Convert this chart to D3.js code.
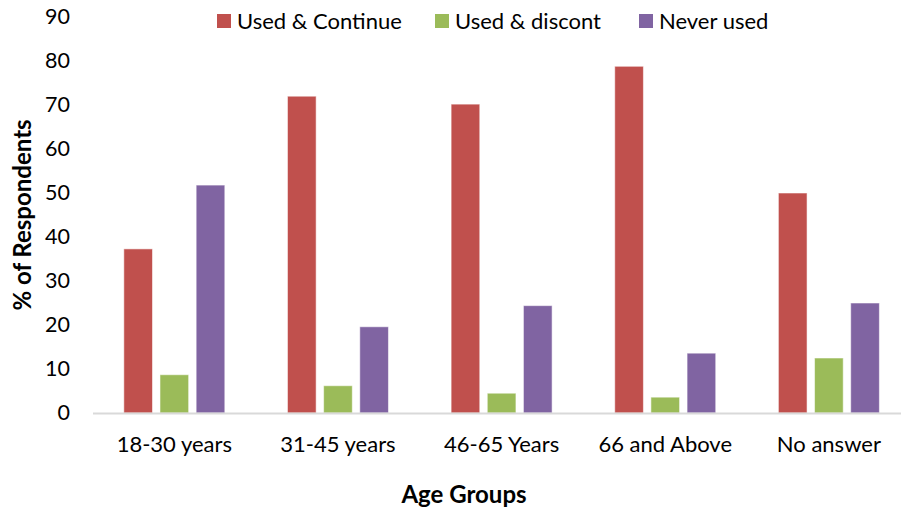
<!DOCTYPE html>
<html>
<head>
<meta charset="utf-8">
<script src="https://cdn.jsdelivr.net/npm/d3@7"></script>
<style>
  body { margin: 0; background: #fff; }
  svg { display: block; font-family: Lato, "Open Sans", sans-serif; }
</style>
</head>
<body>
<svg id="chart" width="901" height="510"></svg>
<script>
// Survey responses by age group (% of respondents)
const categories = ["18-30 years", "31-45 years", "46-65 Years", "66 and Above", "No answer"];
const seriesNames = ["Used & Continue", "Used & discont", "Never used"];
const usedContinue = [37.3, 72.0, 70.2, 78.8, 50.0];
const usedDiscont  = [8.7, 6.2, 4.5, 3.6, 12.5];
const neverUsed    = [51.8, 19.6, 24.4, 13.6, 25.0];
const yTicks = [0, 10, 20, 30, 40, 50, 60, 70, 80, 90];
const colors = ["#C0504D", "#9BBB59", "#8064A2"];

const seriesValues = [usedContinue, usedDiscont, neverUsed];
const rows = categories.map((c, i) => ({
  category: c,
  values: seriesNames.map((s, j) => ({ series: s, value: seriesValues[j][i], color: colors[j] }))
}));

const svg = d3.select("#chart");
const plot = { left: 92.5, right: 910.7, top: 17, bottom: 413 };

const x0 = d3.scaleBand().domain(categories).range([plot.left, plot.right]).paddingInner(0).paddingOuter(0);
const groupW = 101;
const x1 = d3.scaleBand().domain(seriesNames).range([0, groupW]).paddingInner(0.207).paddingOuter(0);
const y = d3.scaleLinear().domain([0, 90]).range([plot.bottom, plot.top]);

// y axis labels (no axis line)
const yAxis = svg.append("g")
  .attr("transform", `translate(70,0)`)
  .call(d3.axisLeft(y).tickValues(yTicks).tickSize(0).tickPadding(0).tickFormat(d3.format("d")));
yAxis.select(".domain").remove();
yAxis.selectAll("text")
  .attr("font-size", 21.5).attr("fill", "#000").attr("font-family", "Lato, sans-serif");

// bars
const groups = svg.append("g").selectAll("g")
  .data(rows).join("g")
  .attr("transform", d => `translate(${x0(d.category) + (x0.bandwidth() - groupW) / 2},0)`);
groups.selectAll("rect")
  .data(d => d.values).join("rect")
  .attr("x", d => x1(d.series))
  .attr("y", d => y(d.value))
  .attr("width", x1.bandwidth())
  .attr("height", d => y(0) - y(d.value))
  .attr("fill", d => d.color)
  .attr("stroke", "rgba(255,255,255,0.55)")
  .attr("stroke-width", 1);

// x axis
const xAxis = svg.append("g")
  .attr("transform", `translate(0,${plot.bottom})`)
  .call(d3.axisBottom(x0).tickSize(0).tickPadding(23));
xAxis.select(".domain").attr("stroke", "#D9D9D9").attr("stroke-width", 2);
xAxis.selectAll("text")
  .attr("font-size", 22).attr("fill", "#000").attr("font-family", "Lato, sans-serif");

// axis titles
svg.append("text")
  .attr("x", 464).attr("y", 503)
  .attr("text-anchor", "middle")
  .attr("font-size", 24).attr("font-weight", "bold")
  .text("Age Groups");

svg.append("text")
  .attr("transform", `translate(31,${(plot.top + plot.bottom) / 2}) rotate(-90)`)
  .attr("text-anchor", "middle")
  .attr("font-size", 24).attr("font-weight", "bold")
  .text("% of Respondents");

// legend
const legendX = [217, 435, 639];
const legend = svg.append("g").selectAll("g")
  .data(seriesNames).join("g")
  .attr("transform", (d, i) => `translate(${legendX[i]},14)`);
legend.append("rect")
  .attr("width", 14).attr("height", 14)
  .attr("fill", (d, i) => colors[i]);
legend.append("text")
  .attr("x", 20).attr("y", 14.5)
  .attr("font-size", 22)
  .text(d => d);
</script>
</body>
</html>
